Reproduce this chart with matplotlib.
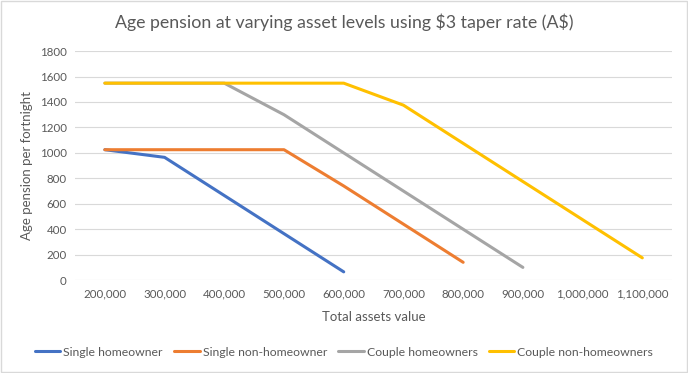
import matplotlib.pyplot as plt
import numpy as np

plt.rcParams['font.family'] = ['Lato', 'DejaVu Sans']

assets = ['200,000', '300,000', '400,000', '500,000', '600,000',
          '700,000', '800,000', '900,000', '1,000,000', '1,100,000']

single_home = [1025, 965, 665, 365, 65, None, None, None, None, None]
single_nonhome = [1025, 1025, 1025, 1025, 740, 440, 140, None, None, None]
couple_home = [1548, 1548, 1548, 1300, 1000, 700, 400, 100, None, None]
couple_nonhome = [1548, 1548, 1548, 1548, 1548, 1375, 1075, 775, 475, 175]

series = [
    ('Single homeowner', single_home, '#4472C4'),
    ('Single non-homeowner', single_nonhome, '#ED7D31'),
    ('Couple homeowners', couple_home, '#A5A5A5'),
    ('Couple non-homeowners', couple_nonhome, '#FFC000'),
]

fig = plt.figure(figsize=(6.88, 3.73), dpi=100)
ax = fig.add_axes([0.109, 0.249, 0.868, 0.614])

x = np.arange(len(assets))
for name, vals, color in series:
    y = np.array([np.nan if v is None else v for v in vals], dtype=float)
    ax.plot(x, y, color=color, linewidth=2.2, label=name,
            solid_capstyle='round', solid_joinstyle='round')

ax.set_xlim(-0.5, len(assets) - 0.5)
ax.set_ylim(0, 1800)
ax.set_yticks(range(0, 1801, 200))
ax.set_xticks(x)
ax.set_xticklabels(assets)
ax.tick_params(axis='both', length=0, labelsize=8.3, colors='#595959', pad=6)
ax.grid(axis='y', color='#D9D9D9', linewidth=0.8)
ax.set_axisbelow(True)
for s in ax.spines.values():
    s.set_visible(False)

ax.set_xlabel('Total assets value', fontsize=9.5, color='#595959', labelpad=8)
ax.set_ylabel('Age pension per fortnight', fontsize=9.5, color='#595959', labelpad=5)
fig.suptitle(r'Age pension at varying asset levels using \$3 taper rate (A\$)',
             x=0.5, y=0.965, fontsize=12.8, color='#595959')

fig.legend(loc='center', bbox_to_anchor=(0.5, 0.056), ncol=4, frameon=False,
           fontsize=8.8, handlelength=2.1, handletextpad=0.25, columnspacing=0.9,
           labelcolor='#595959')

fig.patches.append(plt.Rectangle((0.002, 0.003), 0.996, 0.994, transform=fig.transFigure,
                                 fill=False, edgecolor='#D9D9D9', linewidth=1))

fig.savefig('out.png', dpi=100, facecolor='white')
